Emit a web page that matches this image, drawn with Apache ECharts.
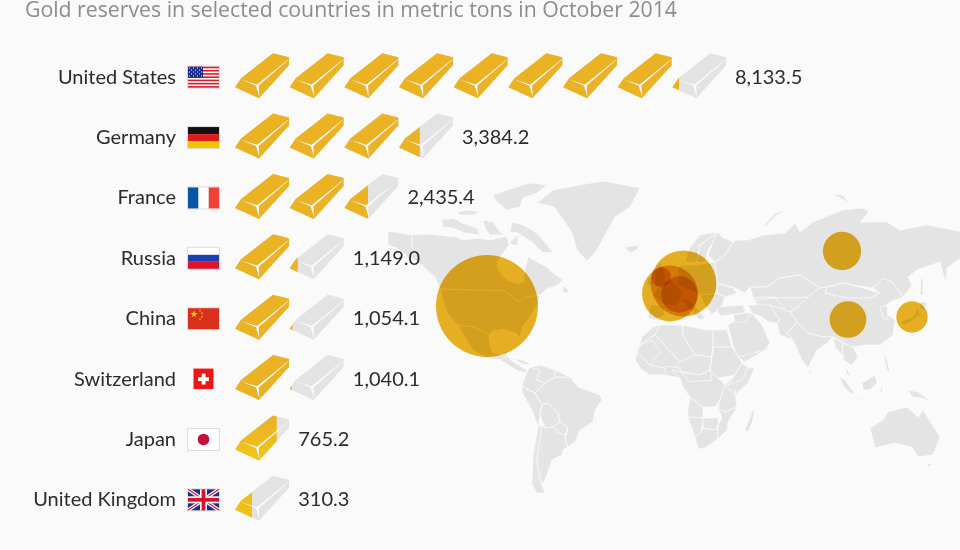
<!DOCTYPE html>
<html>
<head>
<meta charset="utf-8">
<style>
  html, body { margin: 0; padding: 0; background: #fafafa; }
  #chart { width: 960px; height: 550px; }
</style>
<script src="https://cdn.jsdelivr.net/npm/echarts@6/dist/echarts.min.js"></script>
</head>
<body>
<div id="chart"></div>
<script>
// chart values
const countries = ["United States", "Germany", "France", "Russia", "China", "Switzerland", "Japan", "United Kingdom"];
const goldTons = [8133.5, 3384.2, 2435.4, 1149.0, 1054.1, 1040.1, 765.2, 310.3];
const tonsPerBar = 1000;
const maxBars = 10;

// bubble centres, in map units
const bubbleX = [487, 683.5, 670, 842, 848, 679.5, 912, 661];
const bubbleY = [306, 283.5, 293.5, 251, 319.5, 294.5, 317, 277];

// simplified land shapes, map units (x, y down)
const landAreas = {
  chukotka: [[388,180],[398,178],[396,188],[388,190]],
  alaska: [[388,231],[412,235],[412,258],[408,257],[397,248],[388,245]],
  canada: [[412,235],[427,234],[457,237],[462,240],[477,238],[490,240],[507,236],[509,245],[503,253],[500,258],[497,262],[498,270],[507,280],[518,284],[524,282],[525,270],[528,257],[547,267],[553,273],[563,280],[558,285],[547,289],[540,295],[525,297],[519,302],[510,295],[505,291],[440,289],[435,277],[422,265],[412,258]],
  usa: [[440,289],[505,291],[510,295],[519,302],[525,297],[540,295],[538,303],[530,317],[522,327],[520,338],[516,333],[503,329],[493,331],[489,335],[485,332],[473,327],[458,325],[447,313]],
  mexico: [[458,325],[473,327],[485,332],[489,335],[489,340],[492,352],[502,355],[507,350],[507,358],[500,360],[487,358],[473,350]],
  centralAmerica: [[500,360],[507,356],[511,360],[520,366],[527,370],[527,373],[518,371],[510,366]],
  cuba: [[513,358],[522,360],[532,365],[522,364]],
  baffin: [[512,222],[523,225],[537,233],[547,245],[553,252],[543,253],[532,242],[518,233],[510,232]],
  victoria: [[442,220],[453,218],[462,223],[477,228],[480,235],[465,233],[453,228],[443,227]],
  devon: [[483,220],[493,222],[500,232],[505,235],[490,235],[485,228]],
  ellesmere: [[493,195],[507,190],[530,183],[547,185],[537,193],[523,198],[520,207],[507,210],[497,202]],
  banks: [[457,212],[470,210],[480,212],[473,215],[460,215]],
  southampton: [[510,242],[518,235],[518,245],[512,245]],
  newfoundland: [[563,285],[570,292],[563,293]],
  greenland: [[537,203],[553,190],[579,185],[604,181],[640,188],[630,207],[615,217],[605,235],[597,250],[587,261],[577,250],[572,233],[565,222],[554,207]],
  iceland: [[625,247],[639,245],[637,250],[630,253]],

  brazil: [[555,377],[570,377],[578,387],[600,395],[602,400],[595,410],[593,422],[580,430],[575,442],[568,447],[565,440],[568,428],[560,422],[558,413],[548,403],[542,405],[535,393],[545,383]],
  colombia: [[530,367],[540,370],[537,380],[545,383],[535,393],[525,388],[522,385],[527,372]],
  venezuela: [[530,367],[540,365],[555,370],[555,377],[545,383],[537,380],[540,370]],
  guiana: [[555,370],[570,377],[555,377]],
  peru: [[522,385],[525,388],[535,393],[542,405],[540,415],[538,427],[533,413],[522,392]],
  bolivia: [[542,405],[548,403],[558,413],[560,422],[553,427],[545,428],[540,415]],
  paraguay: [[553,427],[560,422],[568,428],[565,435],[558,433]],
  chile: [[538,427],[542,425],[537,460],[540,480],[545,493],[537,493],[532,485],[533,457]],
  argentina: [[545,428],[553,427],[558,433],[565,435],[565,440],[568,447],[563,450],[562,455],[552,460],[547,475],[543,483],[540,480],[537,460],[542,425]],

  morocco: [[642,337],[653,327],[660,325],[655,335],[640,345],[637,353]],
  algeria: [[660,325],[683,325],[683,335],[695,355],[680,362],[655,335]],
  libya: [[683,325],[693,327],[707,330],[713,330],[713,357],[695,355],[683,335]],
  egypt: [[713,330],[727,330],[732,347],[713,347]],
  sudan: [[713,347],[732,347],[742,363],[735,375],[718,378],[710,370]],
  mali: [[640,345],[655,335],[680,362],[672,370],[650,365],[637,353]],
  mauritania: [[640,345],[652,340],[660,352],[650,365],[637,353]],
  chad: [[680,362],[695,355],[713,357],[713,347],[710,370],[700,375],[672,370]],
  westAfrica: [[637,353],[650,365],[672,370],[680,378],[663,375],[650,375],[642,370],[635,360]],
  nigeria: [[665,366],[680,368],[680,378],[665,375]],
  horn: [[735,375],[742,363],[748,368],[755,367],[748,383],[735,395],[725,385]],
  ethiopia: [[735,375],[742,363],[748,368],[742,380],[728,385]],
  congo: [[680,378],[672,370],[700,375],[710,370],[718,378],[725,385],[720,400],[715,407],[703,407],[690,397],[683,387]],
  centralAfrica: [[680,372],[700,375],[710,370],[712,380],[690,382]],
  tanzania: [[725,385],[735,395],[735,390],[737,407],[725,412],[718,408],[720,400]],
  angola: [[690,397],[703,407],[703,418],[688,417],[688,410]],
  namibia: [[688,417],[703,418],[701,432],[695,437]],
  mozambique: [[725,412],[737,407],[728,422],[727,430],[717,440],[718,425],[722,418],[718,408]],
  botswana: [[703,418],[718,418],[718,425],[715,430],[703,428]],
  southAfrica: [[703,428],[715,430],[718,425],[717,440],[703,449],[698,448],[695,437],[701,432]],
  madagascar: [[745,430],[752,412],[755,410],[752,423],[748,432]],

  russia: [[733,242],[738,240],[748,240],[763,235],[785,233],[795,223],[800,232],[813,222],[843,210],[863,208],[869,212],[860,222],[887,222],[900,230],[927,225],[953,230],[965,232],[965,255],[947,268],[946,283],[942,270],[940,262],[917,270],[908,277],[912,285],[903,297],[898,290],[892,282],[883,278],[873,288],[853,285],[843,283],[827,287],[820,288],[800,275],[780,278],[767,287],[750,287],[745,293],[735,288],[717,283],[715,262],[725,255]],
  sakhalin: [[921,278],[923,279],[923,295],[920,295]],
  novayaZemlya: [[762,228],[775,213],[788,210],[777,215],[767,225]],
  severnaya: [[832,194],[842,195],[850,203],[840,198]],
  kazakhstan: [[750,287],[767,287],[780,278],[800,275],[820,288],[808,297],[797,298],[778,298],[767,297],[753,298]],
  mongolia: [[827,287],[843,283],[863,288],[880,293],[870,298],[847,298],[825,293]],
  china: [[820,288],[827,287],[825,293],[847,298],[870,298],[880,293],[873,288],[883,278],[892,282],[898,290],[903,297],[890,302],[880,310],[895,320],[893,335],[880,345],[865,345],[853,347],[843,343],[833,337],[823,337],[808,333],[797,322],[790,312],[800,305],[808,297]],
  india: [[797,322],[808,333],[823,337],[833,337],[827,343],[817,350],[808,368],[802,360],[793,340],[787,333]],
  seAsia: [[833,337],[843,343],[853,347],[858,357],[852,365],[843,360],[850,375],[847,375],[842,350],[835,347]],
  burma: [[833,337],[843,343],[842,355],[835,347]],
  centralAsia: [[753,298],[767,297],[778,298],[797,298],[808,297],[800,305],[790,312],[775,315],[760,310]],
  uzbekistan: [[755,300],[775,298],[785,308],[765,308]],
  iran: [[748,305],[757,305],[770,305],[780,320],[777,323],[768,322],[762,317],[752,313]],
  afghanistan: [[770,305],[790,312],[797,322],[787,333],[793,340],[780,335],[777,323],[780,320]],
  turkey: [[715,307],[743,305],[745,313],[720,316]],
  arabia: [[728,325],[740,318],[745,315],[752,313],[762,325],[770,343],[765,350],[745,362],[738,357],[733,345]],
  iraq: [[733,315],[745,313],[752,313],[745,322],[735,322]],
  yemen: [[745,355],[765,350],[745,362],[738,357]],
  ukraine: [[717,283],[733,288],[737,293],[725,297],[717,293]],
  balkans: [[700,295],[717,293],[725,297],[722,305],[712,315],[705,305]],
  centralEurope: [[680,265],[697,265],[715,262],[717,283],[717,293],[700,295],[690,290],[678,285],[678,270]],
  france: [[660,285],[672,280],[682,292],[678,305],[663,305],[653,295]],
  iberia: [[650,305],[663,305],[665,315],[653,320],[648,318]],
  italy: [[680,298],[690,300],[705,318],[700,320],[688,308]],
  britain: [[655,272],[660,262],[664,268],[667,285],[655,287]],
  ireland: [[648,278],[653,276],[653,284],[647,286]],
  norway: [[690,247],[700,235],[718,232],[700,245],[697,262],[685,262]],
  sweden: [[700,245],[718,232],[714,240],[708,250],[705,262],[697,262]],
  finland: [[718,232],[722,237],[733,242],[725,255],[715,262],[708,255],[714,240]],

  korea: [[880,307],[887,305],[888,320],[883,318]],
  honshu: [[900,322],[913,317],[918,307],[920,315],[905,325]],
  hokkaido: [[920,302],[927,302],[925,310],[920,308]],
  taiwan: [[882,350],[884,350],[883,356]],
  philippines: [[883,353],[887,360],[890,372],[887,370]],
  sumatra: [[839,377],[845,380],[855,394],[850,393],[843,385]],
  borneo: [[862,383],[875,375],[877,383],[870,390],[863,390]],
  java: [[857,397],[868,400],[860,399]],
  sulawesi: [[880,390],[883,383],[882,393]],
  newGuinea: [[908,390],[918,392],[933,403],[922,398],[912,397]],
  sriLanka: [[809,370],[812,372],[810,374]],
  australia: [[870,428],[883,420],[888,412],[907,407],[918,417],[923,410],[940,437],[933,455],[918,457],[912,447],[895,443],[875,448]],
  tasmania: [[927,463],[932,464],[929,467]]
};

// second part of the path has the opposite winding, it cuts the thin highlight lines
const barPath =
  "path://M0 34L6 25L38 0L54 4L54 12L24 45Z" +
  "M5.6 26.1L21 32.5L24.4 44L23.8 32.4L53.3 6.8L53.1 6.2L22 31.2Z";

const features = Object.keys(landAreas).map((name) => {
  const ring = landAreas[name].map((p) => [p[0], -p[1]]);
  ring.push(ring[0]);
  return {
    type: "Feature",
    properties: { name: name },
    geometry: { type: "Polygon", coordinates: [ring] },
  };
});
echarts.registerMap("land", { type: "FeatureCollection", features: features });

// flag drawn left of the first bar of each row
const flagShapes = (name, x, y) => {
  const w = 31, h = 21, top = y - 10.5;
  const rect = (rx, ry, rw, rh, fill) => ({
    type: "rect",
    shape: { x: x + rx, y: top + ry, width: rw, height: rh },
    style: { fill: fill },
  });
  const line = (x1, y1, x2, y2, stroke, width) => ({
    type: "line",
    shape: { x1: x + x1, y1: top + y1, x2: x + x2, y2: top + y2 },
    style: { stroke: stroke, lineWidth: width },
  });
  const star = (cx, cy, r) => {
    const points = [];
    for (let i = 0; i < 10; i++) {
      const a = -Math.PI / 2 + (i * Math.PI) / 5;
      const d = i % 2 ? r * 0.42 : r;
      points.push([x + cx + d * Math.cos(a), top + cy + d * Math.sin(a)]);
    }
    return { type: "polygon", shape: { points: points }, style: { fill: "#f7d417" } };
  };
  const frame = {
    type: "rect",
    shape: { x: x - 0.5, y: top - 0.5, width: w + 1, height: h + 1 },
    style: { fill: "#ffffff", stroke: "rgba(0,0,0,0.13)", lineWidth: 1 },
  };
  const out = [];
  if (name === "United States") {
    out.push(frame);
    for (let i = 0; i < 7; i++) out.push(rect(0, i * 3.23, w, 1.62, "#dd1c2b"));
    out.push(rect(0, 0, 15, 11, "#1a2a8c"));
    for (let i = 0; i < 5; i++) {
      for (let j = 0; j < 7; j++) {
        if ((i + j) % 2 === 0) out.push(rect(1 + j * 2, 0.8 + i * 2, 1, 1, "#ffffff"));
      }
    }
  } else if (name === "Germany") {
    out.push(frame, rect(0, 0, w, 7, "#111111"), rect(0, 7, w, 7, "#dd1c1c"), rect(0, 14, w, 7, "#f5c400"));
  } else if (name === "France") {
    out.push(frame, rect(0, 0, 10.3, h, "#0b55a8"), rect(20.7, 0, 10.3, h, "#ef4135"));
  } else if (name === "Russia") {
    out.push(frame, rect(0, 7, w, 7, "#1b3fb0"), rect(0, 14, w, 7, "#e0122a"));
  } else if (name === "China") {
    out.push(frame, rect(0, 0, w, h, "#d9301c"), star(6, 6, 3.6), star(12, 2.6, 1.2), star(14, 5, 1.2), star(14, 8.5, 1.2), star(12, 11, 1.2));
  } else if (name === "Switzerland") {
    out.push(rect(5.5, 0, 20, 20.5, "#f01414"), rect(13.7, 5, 3.8, 11, "#ffffff"), rect(10, 8.7, 11, 3.8, "#ffffff"));
  } else if (name === "Japan") {
    out.push(frame, {
      type: "circle",
      shape: { cx: x + w / 2, cy: y, r: 5.8 },
      style: { fill: "#c4103a" },
    });
  } else if (name === "United Kingdom") {
    out.push(frame, rect(0, 0, w, h, "#1c2f86"),
      line(0, 0, w, h, "#ffffff", 3.6), line(w, 0, 0, h, "#ffffff", 3.6),
      line(0, 0, w, h, "#d2142c", 1.2), line(w, 0, 0, h, "#d2142c", 1.2),
      rect(0, 7, w, 7, "#ffffff"), rect(12, 0, 7, h, "#ffffff"),
      rect(0, 8.6, w, 3.8, "#d2142c"), rect(13.6, 0, 3.8, h, "#d2142c"));
  }
  return out;
};

const chart = echarts.init(document.getElementById("chart"));

const bubbleScale = 102 / Math.sqrt(goldTons[0]);
const barCounts = goldTons.map((v) => Math.ceil(v / tonsPerBar) * tonsPerBar);
const formatTons = (v) => v.toLocaleString("en-US", { minimumFractionDigits: 1, maximumFractionDigits: 1 });

// the bars on the last two rows are a lighter gold in the original
const goldStyle = (i) => {
  if (i === 6) {
    return {
      color: new echarts.graphic.LinearGradient(0, 0, 0, 1, [
        { offset: 0, color: "#e9b02a" },
        { offset: 1, color: "#f3c514" },
      ]),
    };
  }
  if (i === 7) return { color: "#f0c018" };
  return { color: "#ebb324" };
};

const option = {
  backgroundColor: "#fafafa",
  animation: false,
  title: {
    text: "Gold reserves in selected countries in metric tons in October 2014",
    left: 20,
    top: -5,
    textStyle: { fontFamily: "Open Sans", fontSize: 21.25, fontWeight: "normal", color: "#8c8c8c" },
  },
  grid: { left: 235, right: 179, top: 47, bottom: 20 },
  xAxis: { type: "value", min: 0, max: maxBars * tonsPerBar, show: false },
  yAxis: {
    type: "category",
    inverse: true,
    data: countries,
    axisLine: { show: false },
    axisTick: { show: false },
    axisLabel: { margin: 59, fontFamily: "Lato", fontSize: 20, color: "#2b2b2b" },
  },
  geo: {
    map: "land",
    silent: true,
    z: 0,
    aspectScale: 1,
    left: 400,
    top: 170,
    width: 560,
    height: 380,
    boundingCoords: [[400, -170], [960, -550]],
    label: { show: false },
    itemStyle: { areaColor: "#e4e4e4", borderColor: "#fafafa", borderWidth: 0.7 },
  },
  series: [
    {
      type: "scatter",
      coordinateSystem: "geo",
      z: 1,
      silent: true,
      blendMode: "multiply",
      data: bubbleX.map((x, i) => [x, -bubbleY[i], goldTons[i]]),
      symbolSize: (d) => Math.sqrt(d[2]) * bubbleScale,
      itemStyle: { color: "#ebb222", opacity: 1 },
    },
    {
      type: "pictorialBar",
      name: "capacity",
      z: 3,
      symbol: barPath,
      symbolSize: [54, 45],
      symbolOffset: [0, -1.5],
      symbolRepeat: maxBars,
      symbolClip: true,
      symbolBoundingData: maxBars * tonsPerBar,
      itemStyle: { color: "#e3e3e3" },
      data: barCounts,
    },
    {
      type: "pictorialBar",
      name: "gold",
      z: 4,
      symbol: barPath,
      symbolSize: [54, 45],
      symbolOffset: [0, -1.5],
      symbolRepeat: maxBars,
      symbolClip: true,
      symbolBoundingData: maxBars * tonsPerBar,
      data: goldTons.map((v, i) => ({ value: v, itemStyle: goldStyle(i) })),
    },
    {
      // invisible bars, they only carry the value labels
      type: "bar",
      z: 5,
      silent: true,
      itemStyle: { color: "transparent" },
      label: {
        show: true,
        position: "right",
        distance: 8.6,
        fontFamily: "Lato",
        fontSize: 20,
        color: "#2b2b2b",
        formatter: (p) => formatTons(goldTons[p.dataIndex]),
      },
      data: barCounts,
    },
    {
      type: "custom",
      z: 5,
      silent: true,
      data: countries.map((c, i) => [0, i]),
      encode: { x: 0, y: 1 },
      renderItem: (params, api) => {
        const pos = api.coord([0, api.value(1)]);
        return { type: "group", children: flagShapes(countries[params.dataIndex], pos[0] - 47, pos[1]) };
      },
    },
  ],
};

chart.setOption(option);
</script>
</body>
</html>
